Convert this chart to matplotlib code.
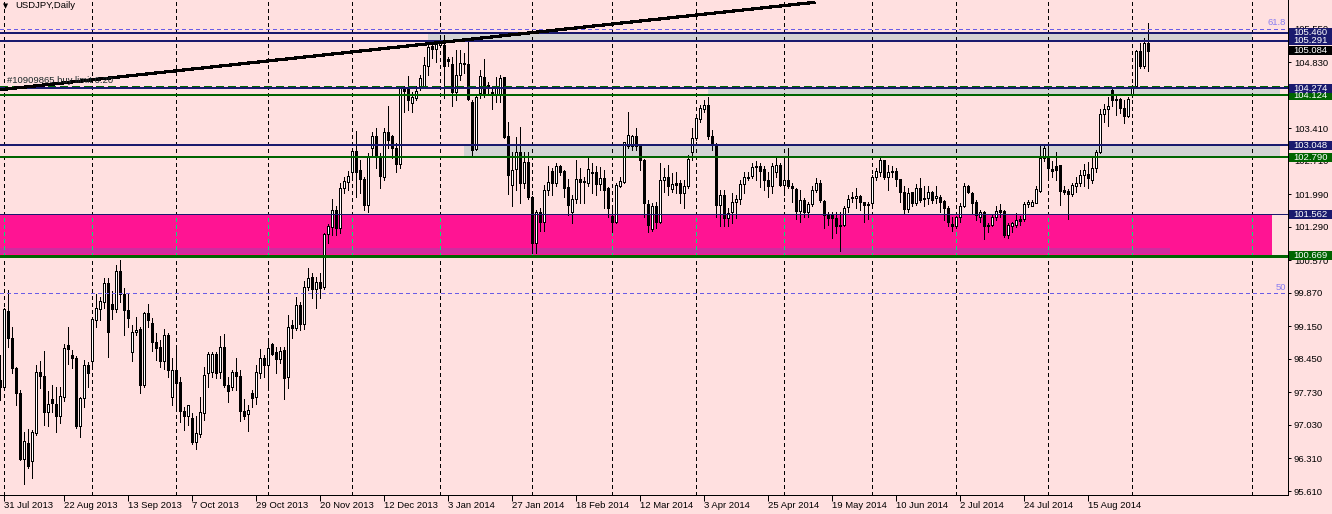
import matplotlib
matplotlib.use('Agg')
import matplotlib.pyplot as plt
from matplotlib.patches import Rectangle
import numpy as np

# --- daily USDJPY candles, first bar sits one slot left of "31 Jul 2013" ---
first_bar = -1
opens = [
    97.99, 97.84, 99.49, 98.89, 98.25, 97.71, 96.29, 96.65, 96.26, 96.86,
    98.17, 98.08, 97.31, 97.58, 97.49, 97.23, 97.64, 98.75, 98.53, 98.46,
    97.00, 97.60, 98.31, 98.40, 99.28, 99.53, 99.68, 100.08, 99.64, 99.53,
    100.34, 99.84, 99.50, 98.59, 99.02, 99.09, 97.88, 99.43, 99.22, 98.81,
    98.70, 98.40, 98.96, 97.64, 98.22, 97.95, 97.32, 97.23, 97.17, 96.67,
    96.83, 97.29, 98.14, 98.16, 98.55, 98.16, 98.71, 97.88, 97.84, 98.16,
    98.09, 97.33, 97.26, 97.71, 97.64, 98.14, 98.47, 98.33, 98.78, 98.60,
    98.45, 98.64, 98.07, 99.18, 99.12, 99.61, 99.21, 99.99, 100.22, 99.95,
    100.10, 100.00, 101.13, 101.28, 101.65, 101.26, 102.12, 102.26, 102.48, 102.92,
    102.51, 102.33, 101.75, 102.98, 103.25, 102.80, 102.37, 103.32, 103.25, 102.98,
    102.64, 104.25, 104.25, 103.95, 104.06, 104.33, 104.33, 104.76, 105.18, 105.11,
    105.20, 105.20, 104.90, 104.79, 104.18, 104.56, 104.82, 104.79, 103.98, 102.96,
    104.16, 104.52, 104.34, 104.18, 104.15, 104.13, 104.52, 103.25, 102.19, 102.53,
    102.89, 102.24, 102.69, 101.94, 100.94, 101.60, 101.40, 102.08, 102.49, 102.23,
    102.60, 102.49, 102.14, 101.60, 101.88, 102.31, 102.28, 102.24, 102.47, 102.46,
    102.21, 102.34, 102.12, 101.53, 101.40, 102.17, 102.25, 103.04, 103.02, 103.25,
    103.04, 102.73, 101.78, 101.24, 101.74, 101.40, 102.29, 102.36, 102.10, 102.23,
    102.23, 102.01, 102.17, 102.91, 103.20, 103.61, 103.83, 103.91, 103.25, 103.07,
    101.76, 101.98, 101.49, 101.60, 101.82, 101.88, 102.21, 102.34, 102.39, 102.57,
    102.60, 102.53, 102.29, 102.16, 102.46, 102.62, 102.19, 102.30, 102.16, 102.10,
    101.64, 101.87, 101.62, 101.78, 102.08, 102.23, 101.85, 101.55, 101.55, 101.49,
    101.33, 101.32, 101.71, 101.91, 101.91, 101.96, 101.82, 101.78, 101.81, 102.36,
    102.48, 102.73, 102.37, 102.46, 102.49, 102.32, 102.03, 101.67, 102.03, 101.80,
    102.12, 101.92, 101.91, 102.05, 101.91, 101.94, 101.85, 101.69, 101.35, 101.30,
    101.50, 101.73, 102.17, 102.01, 101.83, 101.51, 101.60, 101.32, 101.33, 101.50,
    101.65, 101.63, 101.12, 101.30, 101.33, 101.46, 101.45, 101.78, 101.74, 101.81,
    102.07, 102.77, 102.77, 102.54, 102.59, 102.61, 102.08, 102.06, 101.99, 102.16,
    102.23, 102.41, 102.43, 102.30, 102.55, 102.89, 103.72, 103.82, 104.23, 104.04,
    104.04, 103.84, 103.68, 104.13, 104.31, 105.07, 104.74, 105.25,
]
highs = [
    98.53, 99.55, 99.93, 99.13, 98.28, 97.78, 96.88, 96.94, 96.92, 98.32,
    98.40, 98.62, 97.76, 97.90, 97.85, 97.85, 98.78, 99.13, 98.64, 98.51,
    97.64, 98.42, 98.39, 99.36, 99.84, 99.79, 100.18, 100.18, 99.91, 100.47,
    100.58, 99.97, 99.86, 99.18, 99.36, 99.14, 99.46, 99.64, 99.32, 99.00,
    98.86, 99.10, 99.00, 98.46, 98.71, 98.07, 97.42, 97.46, 97.28, 97.22,
    97.64, 98.27, 98.60, 98.60, 98.60, 98.94, 98.98, 98.07, 98.21, 98.46,
    98.21, 97.59, 97.46, 97.78, 98.32, 98.67, 98.53, 98.86, 98.80, 98.71,
    98.71, 98.71, 99.39, 99.29, 99.79, 99.68, 100.13, 100.40, 100.29, 100.22,
    100.30, 101.16, 101.35, 101.89, 101.73, 102.23, 102.37, 102.50, 102.98, 103.35,
    102.73, 102.37, 102.87, 103.34, 103.41, 102.87, 103.42, 103.89, 103.27, 103.09,
    104.32, 104.33, 104.54, 104.20, 104.31, 104.56, 104.95, 105.22, 105.30, 105.27,
    105.42, 105.42, 104.95, 104.95, 105.09, 105.09, 105.02, 105.35, 104.02, 104.13,
    104.66, 104.90, 104.41, 104.27, 104.52, 104.56, 104.52, 103.55, 102.91, 103.23,
    103.43, 102.91, 102.89, 101.96, 101.65, 101.69, 102.19, 102.59, 102.55, 102.66,
    102.62, 102.51, 102.31, 101.98, 102.73, 102.55, 102.37, 102.82, 102.66, 102.59,
    102.57, 102.51, 102.14, 101.69, 102.24, 102.37, 103.12, 103.75, 103.27, 103.41,
    103.05, 102.75, 101.86, 101.80, 101.83, 102.67, 102.55, 102.62, 102.44, 102.48,
    102.30, 102.30, 102.84, 103.41, 103.66, 103.91, 104.02, 104.09, 103.37, 103.10,
    102.08, 102.08, 101.69, 102.01, 101.98, 102.30, 102.46, 102.46, 102.67, 102.71,
    102.67, 102.59, 102.48, 102.66, 102.77, 102.66, 102.75, 102.98, 102.23, 102.12,
    102.08, 101.91, 101.83, 102.16, 102.34, 102.30, 101.87, 101.60, 101.60, 101.60,
    101.60, 101.73, 101.98, 102.05, 102.12, 101.98, 101.83, 101.83, 102.41, 102.55,
    102.77, 102.73, 102.62, 102.60, 102.55, 102.33, 102.16, 102.12, 102.05, 102.21,
    102.34, 102.16, 102.17, 102.07, 102.16, 101.98, 101.87, 101.73, 101.51, 101.52,
    101.81, 102.24, 102.19, 102.05, 101.87, 101.65, 101.64, 101.37, 101.55, 101.73,
    101.78, 101.65, 101.37, 101.40, 101.58, 101.52, 101.83, 101.87, 101.87, 102.16,
    103.07, 103.03, 103.05, 102.70, 102.91, 102.62, 102.17, 102.10, 102.23, 102.37,
    102.51, 102.64, 102.69, 102.77, 102.94, 103.82, 103.93, 104.09, 104.27, 104.13,
    104.06, 104.02, 104.08, 104.34, 105.10, 105.24, 105.35, 105.67,
]
lows = [
    97.57, 97.80, 98.71, 98.15, 97.47, 96.28, 95.77, 96.10, 95.89, 96.81,
    97.83, 97.04, 97.01, 97.30, 96.88, 97.08, 97.54, 98.35, 98.25, 96.96,
    96.78, 97.42, 97.85, 98.25, 99.14, 99.29, 99.54, 98.50, 99.30, 99.45,
    99.68, 98.97, 99.14, 98.41, 98.96, 97.72, 97.84, 99.14, 98.61, 98.42,
    98.28, 98.24, 98.07, 97.46, 97.35, 97.10, 96.92, 97.03, 96.63, 96.52,
    96.78, 97.13, 97.85, 98.07, 98.03, 98.05, 97.85, 97.53, 97.78, 97.78,
    97.12, 97.16, 96.91, 97.42, 97.49, 98.03, 98.07, 97.78, 98.53, 98.14,
    98.37, 97.58, 97.82, 98.89, 99.07, 99.07, 99.10, 99.93, 99.75, 99.54,
    99.75, 99.95, 100.94, 101.12, 101.12, 101.15, 102.01, 102.08, 102.37, 101.94,
    102.01, 101.65, 101.60, 102.84, 102.55, 102.12, 102.30, 102.98, 102.77, 102.46,
    102.55, 103.77, 103.80, 103.75, 104.02, 104.23, 104.27, 104.56, 104.92, 104.84,
    105.17, 104.06, 104.74, 103.89, 104.02, 104.45, 104.59, 104.02, 102.82, 102.94,
    104.06, 104.09, 104.16, 103.82, 103.98, 103.98, 103.20, 102.00, 101.73, 102.08,
    101.81, 102.12, 101.90, 100.72, 100.72, 101.21, 101.21, 101.98, 101.98, 102.16,
    102.41, 101.94, 101.55, 101.37, 101.80, 101.80, 101.80, 102.16, 102.01, 101.98,
    102.08, 101.69, 101.51, 101.17, 101.37, 102.14, 102.23, 102.98, 102.94, 102.94,
    102.51, 101.51, 101.17, 101.21, 101.26, 101.37, 102.05, 101.98, 102.05, 102.01,
    101.80, 101.69, 102.12, 102.73, 103.16, 103.55, 103.77, 103.17, 102.94, 101.51,
    101.30, 101.30, 101.30, 101.38, 101.48, 101.78, 102.01, 102.30, 102.34, 102.30,
    102.14, 102.08, 101.93, 102.01, 102.37, 102.16, 101.98, 102.12, 101.83, 101.45,
    101.40, 101.51, 101.51, 101.73, 102.05, 101.83, 101.27, 101.33, 101.06, 101.15,
    100.78, 101.30, 101.62, 101.83, 101.69, 101.65, 101.40, 101.47, 101.76, 102.30,
    102.39, 102.31, 102.08, 102.37, 102.16, 101.83, 101.57, 101.62, 101.73, 101.76,
    101.83, 101.73, 101.78, 101.80, 101.80, 101.62, 101.44, 101.31, 101.21, 101.26,
    101.40, 101.71, 102.01, 101.58, 101.44, 101.40, 101.03, 101.19, 101.30, 101.44,
    101.51, 101.08, 101.05, 101.19, 101.28, 101.33, 101.42, 101.71, 101.73, 101.80,
    102.05, 102.70, 102.29, 102.37, 102.30, 101.75, 101.99, 101.46, 101.96, 102.05,
    102.16, 102.16, 102.12, 102.23, 102.48, 102.87, 103.55, 103.46, 103.89, 103.70,
    103.73, 103.52, 103.66, 104.09, 104.29, 104.70, 104.70, 104.65,
]
closes = [
    97.84, 99.52, 98.89, 98.25, 97.71, 96.30, 96.68, 96.15, 96.87, 98.16,
    98.09, 97.31, 97.49, 97.51, 97.23, 97.65, 98.68, 98.67, 98.48, 97.00,
    97.60, 98.31, 98.14, 99.30, 99.54, 99.69, 100.08, 99.03, 99.53, 100.35,
    99.85, 99.51, 99.34, 99.02, 99.08, 97.89, 99.43, 99.29, 98.81, 98.69,
    98.40, 98.96, 98.21, 98.22, 97.94, 97.32, 97.23, 97.45, 96.67, 96.85,
    97.31, 98.11, 98.55, 98.55, 98.14, 98.71, 97.88, 97.75, 98.16, 98.09,
    97.34, 97.23, 97.36, 97.62, 98.16, 98.48, 98.32, 98.68, 98.56, 98.45,
    98.62, 98.05, 99.13, 99.12, 99.61, 99.21, 99.99, 100.18, 99.95, 100.10,
    99.98, 101.14, 101.31, 101.65, 101.26, 102.12, 102.28, 102.39, 102.92, 102.46,
    102.33, 101.76, 102.82, 103.25, 102.80, 102.39, 103.34, 103.16, 102.98, 102.64,
    104.29, 104.21, 104.02, 104.08, 104.21, 104.49, 104.77, 105.15, 105.11, 105.22,
    105.30, 104.74, 104.85, 104.18, 104.56, 104.81, 104.79, 104.04, 102.94, 104.08,
    104.54, 104.16, 104.27, 104.13, 104.31, 104.49, 103.23, 102.41, 102.51, 102.89,
    102.24, 102.69, 101.94, 100.94, 101.60, 101.40, 102.08, 102.25, 102.23, 102.60,
    102.48, 102.12, 101.76, 101.88, 102.31, 102.25, 102.25, 102.53, 102.44, 102.21,
    102.34, 102.08, 101.70, 101.40, 102.19, 102.28, 103.12, 103.27, 103.25, 103.04,
    102.73, 101.80, 101.32, 101.74, 101.40, 102.30, 102.36, 102.16, 102.21, 102.19,
    102.01, 102.17, 102.75, 103.20, 103.63, 103.84, 103.91, 103.25, 103.07, 101.76,
    101.98, 101.49, 101.58, 101.82, 101.89, 102.21, 102.36, 102.36, 102.57, 102.60,
    102.50, 102.29, 102.16, 102.59, 102.62, 102.19, 102.30, 102.17, 102.12, 101.64,
    101.87, 101.62, 101.78, 102.08, 102.23, 101.86, 101.55, 101.48, 101.49, 101.30,
    101.30, 101.69, 101.89, 101.93, 101.96, 101.82, 101.76, 101.76, 102.36, 102.50,
    102.73, 102.37, 102.48, 102.49, 102.31, 102.03, 101.67, 102.01, 101.80, 102.12,
    101.87, 101.89, 102.03, 101.87, 101.96, 101.83, 101.69, 101.40, 101.30, 101.50,
    101.73, 102.17, 102.05, 101.80, 101.55, 101.60, 101.30, 101.30, 101.50, 101.64,
    101.60, 101.12, 101.33, 101.37, 101.44, 101.42, 101.78, 101.83, 101.83, 102.11,
    102.77, 102.98, 102.55, 102.50, 102.51, 102.07, 102.05, 101.99, 102.19, 102.24,
    102.41, 102.51, 102.34, 102.55, 102.89, 103.72, 103.82, 103.89, 104.02, 104.02,
    103.84, 103.68, 104.03, 104.31, 105.07, 104.74, 105.25, 105.08,
]

date_ticks = [0, 15, 31, 47, 63, 79, 95, 111, 127, 143, 159, 175, 191, 207, 223, 239, 255, 271]
date_labels = ['31 Jul 2013', '22 Aug 2013', '13 Sep 2013', '7 Oct 2013', '29 Oct 2013',
               '20 Nov 2013', '12 Dec 2013', '3 Jan 2014', '27 Jan 2014', '18 Feb 2014',
               '12 Mar 2014', '3 Apr 2014', '25 Apr 2014', '19 May 2014', '10 Jun 2014',
               '2 Jul 2014', '24 Jul 2014', '15 Aug 2014']
grid_bars = [0, 22, 43, 66, 87, 109, 132, 152, 173, 195, 217, 238, 261, 282, 312]
price_ticks = [105.55, 104.83, 104.12, 103.41, 102.71, 101.99, 101.29, 100.57,
               99.87, 99.15, 98.45, 97.73, 97.03, 96.31, 95.61]

# horizontal levels
navy_levels = [105.460, 105.291, 104.274, 103.048]
green_levels = [104.124, 102.790]
support_line = 100.669
zone_top = 101.562
order_price = 104.30
fib_levels = [(105.55, '61.8'), (99.87, '50')]
trend_x = [-1, 202.75]
trend_y = [104.24, 106.12]

# grey zones: (left bar, right bar, low, high)
grey_zones = [(106, 312, 105.291, 105.460), (176, 319, 104.124, 104.274), (115, 319, 102.790, 103.048)]
pink_zone = (-1, 317, 100.669, 101.562)
violet_strip = (-1, 291.5, 100.696, 100.842)

# labels on the price scale (price, text, background), drawn in this order
scale_marks = [(105.460, '105.460', '#1a1a6e'), (105.291, '105.291', '#1a1a6e'),
               (105.084, '105.084', '#000000'), (104.124, '104.124', '#006400'),
               (104.274, '104.274', '#1a1a6e'), (103.048, '103.048', '#1a1a6e'),
               (102.790, '102.790', '#006400'), (101.562, '101.562', '#1a1a6e'),
               (100.669, '100.669', '#006400')]

BG = '#ffe0e0'
NAVY = '#1a1a6e'
GREEN = '#006400'
FIB = '#6a5ce6'
PX = 0.72  # one pixel in points at dpi 100

# MT4 draws without smoothing
plt.rcParams['lines.antialiased'] = False
plt.rcParams['patch.antialiased'] = False
plt.rcParams['font.family'] = ['DejaVu Sans Condensed', 'Liberation Sans', 'DejaVu Sans']
FS = 6.8

fig = plt.figure(figsize=(13.32, 5.14), dpi=100, facecolor=BG)
ax = fig.add_axes([0, 19 / 514, 1288 / 1332, 495 / 514])
ax.set_facecolor(BG)
ax.set_xlim(-1, 321)
ax.set_ylim(95.524, 106.169)

# zones
for x0, x1, lo, hi in grey_zones:
    ax.add_patch(Rectangle((x0, lo), x1 - x0, hi - lo, facecolor='#d3d3d3', edgecolor='none', zorder=1))

# vertical grid
for g in grid_bars:
    ax.axvline(g, color='black', lw=PX, ls=(0, (3, 3)), zorder=2)

x0, x1, lo, hi = pink_zone
ax.add_patch(Rectangle((x0, lo), x1 - x0, hi - lo, facecolor='#ff1493', edgecolor='none', zorder=2.05))
x0, x1, lo, hi = violet_strip
ax.add_patch(Rectangle((x0, lo), x1 - x0, hi - lo, facecolor='#d02ba0', edgecolor='none', zorder=2.06))
for g in grid_bars:
    if pink_zone[0] <= g <= pink_zone[1]:
        ax.vlines(g, pink_zone[2], pink_zone[3], color='#00e676', lw=PX, ls=(0, (3, 3)), zorder=2.1)

# candles
x = np.arange(first_bar, first_bar + len(opens))
o = np.array(opens)
h = np.array(highs)
l = np.array(lows)
c = np.array(closes)
ax.vlines(x, l, h, color='black', lw=PX, zorder=3)
bull = c >= o
bottom = np.minimum(o, c)
height = np.maximum(np.abs(c - o), 0.012)
ax.bar(x[bull], height[bull], bottom=bottom[bull], width=0.62, facecolor='white',
       edgecolor='black', linewidth=PX, zorder=4)
ax.bar(x[~bull], height[~bull], bottom=bottom[~bull], width=0.62, facecolor='black',
       edgecolor='black', linewidth=PX, zorder=4)

# lines
ax.axhline(order_price, color=GREEN, lw=2 * PX, ls=(0, (3.5, 2.5)), zorder=5)
for lev in navy_levels:
    ax.axhline(lev, color=NAVY, lw=2 * PX, zorder=5.2)
for lev in green_levels:
    ax.axhline(lev, color=GREEN, lw=2 * PX, zorder=5.1)
ax.axhline(zone_top, color=NAVY, lw=PX, zorder=5.2)
ax.axhline(support_line, color=GREEN, lw=3 * PX, zorder=5.1)
for lev, name in fib_levels:
    ax.axhline(lev, color=FIB, lw=PX, ls=(0, (4, 3)), zorder=5)
    ax.text(0.9985, lev + 0.03, name, transform=ax.get_yaxis_transform(), ha='right', va='bottom',
            color='#8a7ef0', fontsize=FS, zorder=6)
ax.plot(trend_x, trend_y, color='black', lw=2.2 * PX, zorder=6, solid_capstyle='butt')

ax.text(0.75, order_price + 0.035, '#10909865 buy limit 0.20', color='#1c2a2a', fontsize=FS,
        ha='left', va='bottom', zorder=6)
ax.text(0.0025, 0.988, '\u25bc', transform=ax.transAxes, fontsize=4.8, family='DejaVu Sans',
        ha='left', va='center', zorder=6)
ax.text(0.0115, 0.988, 'USDJPY,Daily', transform=ax.transAxes, fontsize=FS,
        ha='left', va='center', zorder=6)

# axes styling
for side in ['top', 'left']:
    ax.spines[side].set_visible(False)
for side in ['right', 'bottom']:
    ax.spines[side].set_linewidth(PX)
    ax.spines[side].set_zorder(7)

ax.yaxis.tick_right()
ax.set_yticks(price_ticks)
ax.set_yticklabels(['%.3f' % p for p in price_ticks])
ax.tick_params(axis='y', length=2.5, width=PX, pad=1.8, labelsize=FS)
ax.set_xticks(date_ticks)
ax.set_xticklabels(date_labels, ha='left')
ax.tick_params(axis='x', length=4, width=PX, pad=0.5, labelsize=FS)

# coloured price marks on the scale
half = 4.6 / 46.5
for p, txt, col in scale_marks:
    ax.add_patch(Rectangle((1.0008, p - half), 0.04, 2 * half, transform=ax.get_yaxis_transform(),
                           facecolor=col, edgecolor='none', clip_on=False, zorder=8))
    ax.text(1.0042, p, txt, transform=ax.get_yaxis_transform(), color='white', fontsize=FS,
            ha='left', va='center', clip_on=False, zorder=9)

fig.savefig('out.png', dpi=100, facecolor=BG)
